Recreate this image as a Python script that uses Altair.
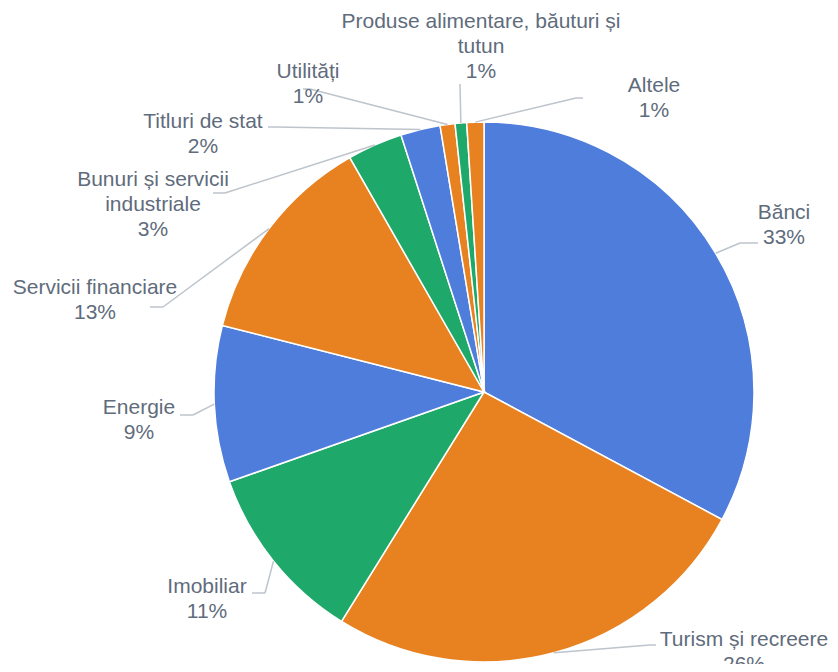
import altair as alt
import pandas as pd

# ---- data ----
categories = ["Bănci", "Turism și recreere", "Imobiliar", "Energie",
              "Servicii financiare", "Bunuri și servicii industriale",
              "Titluri de stat", "Utilități",
              "Produse alimentare, băuturi și tutun", "Altele"]
label_names = ["Bănci", "Turism și recreere", "Imobiliar", "Energie",
               "Servicii financiare", "Bunuri și servicii\nindustriale",
               "Titluri de stat", "Utilități",
               "Produse alimentare, băuturi și\ntutun", "Altele"]
values = [32.8, 26.0, 10.75, 9.35, 12.75, 3.3, 2.37, 0.89, 0.69, 1.02]
colors = ["#4E7DDC", "#E88221", "#1EA86A", "#4E7DDC", "#E88221",
          "#1EA86A", "#4E7DDC", "#E88221", "#1EA86A", "#E88221"]

# ---- layout (label placement, in chart pixels) ----
CX, CY, R = 476, 384, 270
label_x = [776, 736, 199, 131, 87, 145, 195, 300, 473, 646]
label_y = [205, 632, 579, 400, 280, 172, 114, 64, 14, 78]
elbow_x = [732, 642, 257, 185, 155, 217, 267, 302, 452, 568]
elbow_y = [235, 637, 585, 407, 299, 185, 119, 81, 76, 90]
end_x = [750, 648, 244, 172, 142, 205, 260, 295, 452, 575]

df = pd.DataFrame({
    "idx": list(range(len(categories))),
    "cat": categories,
    "name": label_names,
    "value": values,
    "lx": label_x, "ly": label_y,
    "ex": elbow_x, "ey": elbow_y, "hx": end_x,
})

base = alt.Chart(df)

pie = base.mark_arc(outerRadius=R, stroke="white", strokeWidth=1.5).encode(
    theta=alt.Theta("value:Q", stack=True),
    color=alt.Color("cat:N", scale=alt.Scale(domain=categories, range=colors), legend=None),
    order=alt.Order("idx:Q", sort="ascending"),
    x=alt.value(CX), y=alt.value(CY),
)

geo = base.transform_joinaggregate(
    total="sum(value)"
).transform_window(
    cum="sum(value)", sort=[alt.SortField("idx", order="ascending")],
    frame=[None, 0]
).transform_calculate(
    ang="2*PI*(datum.cum - datum.value/2)/datum.total",
).transform_calculate(
    sx=f"{CX} + {R}*sin(datum.ang)",
    sy=f"{CY} - {R}*cos(datum.ang)",
    label="datum.name + '\\n' + format(datum.value/datum.total, '.0%')",
)

line_col = "#BDC4CB"
seg1 = geo.mark_rule(color=line_col, strokeWidth=1.5).encode(
    x=alt.X("sx:Q", scale=None, axis=None),
    y=alt.Y("sy:Q", scale=None, axis=None),
    x2="ex:Q", y2="ey:Q",
)
seg2 = geo.mark_rule(color=line_col, strokeWidth=1.5).encode(
    x=alt.X("ex:Q", scale=None, axis=None),
    y=alt.Y("ey:Q", scale=None, axis=None),
    x2="hx:Q", y2="ey:Q",
)

text = geo.mark_text(
    align="center", baseline="middle", lineBreak="\n",
    font="Liberation Sans", fontSize=21, lineHeight=25, color="#5F6C7C",
).encode(
    x=alt.X("lx:Q", scale=None, axis=None),
    y=alt.Y("ly:Q", scale=None, axis=None),
    text="label:N",
)

chart = alt.layer(pie, seg1, seg2, text).properties(
    width=822, height=656,
    autosize=alt.AutoSizeParams(type="none"),
    padding=0,
    background="white",
).configure_view(stroke=None)

chart.save("out.html", embed_options={"renderer": "svg", "actions": False})
